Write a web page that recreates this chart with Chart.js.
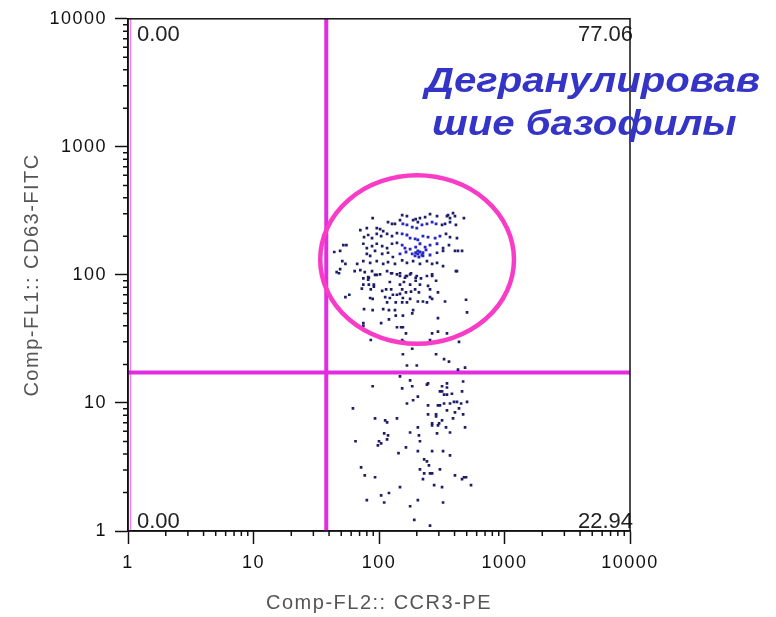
<!DOCTYPE html>
<html>
<head>
<meta charset="utf-8">
<script src="https://cdn.jsdelivr.net/npm/chart.js@4.4.1/dist/chart.umd.min.js"></script>
<style>
  html, body { margin: 0; padding: 0; background: #fff; }
  #wrap { position: relative; width: 776px; height: 617px; }
</style>
</head>
<body>
<div id="wrap"><canvas id="dotplot"></canvas></div>
<script>
'use strict';

// Axes: both log, 1 - 10000
const decadeTicks = [1, 10, 100, 1000, 10000];
const decadeLabels = ['1', '10', '100', '1000', '10000'];
const xTitle = 'Comp-FL2:: CCR3-PE';
const yTitle = 'Comp-FL1:: CD63-FITC';

// Quadrant gate and its percentages (UL, UR, LL, LR)
const quadGateX = 38;
const quadGateY = 17.3;
const quadPercents = ['0.00', '77.06', '0.00', '22.94'];

// Elliptic gate, bounding values on each axis
const ellipseGateX = [34, 1190];
const ellipseGateY = [29, 600];
const gateNote = ['Дегранулировав', 'шие базофилы'];

// Events: dense core of the population
const coreX = [155, 167, 184, 200, 220, 241, 265, 285, 153, 167, 177, 194, 204, 224, 246, 280, 306,
  153, 161, 177, 196, 212, 233, 255, 290, 147, 164, 184, 194, 204, 224, 255, 204, 212, 224, 237, 196, 220, 208];
const coreY = [250, 246, 236, 232, 246, 250, 258, 250, 209, 205, 194, 191, 188, 201, 197, 194, 201,
  171, 162, 159, 165, 175, 165, 171, 175, 146, 151, 146, 141, 146, 141, 143, 154, 151, 149, 157, 149, 143, 138];

// Events: upper right quadrant
const upperX = [389, 403, 475, 355, 368, 290, 255, 233, 212, 196,
  204, 187, 167, 153, 89, 118, 127, 134, 147, 318,
  336, 368, 410, 71, 80, 96, 102, 108, 76, 82,
  88, 96, 104, 116, 127, 139, 342, 368, 418, 52,
  55, 44, 49, 75, 80, 88, 96, 106, 116, 127,
  139, 324, 361, 80, 85, 93, 106, 118, 129, 290,
  324, 403, 426, 459, 51, 54, 49, 67, 75, 85,
  96, 108, 118, 134, 153, 167, 187, 212, 241, 265,
  290, 324, 46, 64, 71, 77, 88, 102, 116, 127,
  139, 147, 167, 180, 200, 216, 241, 265, 418, 75,
  82, 348,
  48, 82, 83, 93, 96, 125, 147, 177, 196, 164,
  161, 265, 410, 75, 83, 91, 91, 122, 147, 158,
  177, 196, 212, 246, 285, 73, 86, 106, 114, 125,
  129, 139, 147, 153, 164, 180, 194, 208, 255, 295,
  54, 58, 85, 89, 112, 122, 155, 177, 255, 265,
  116, 136, 153, 167, 204, 224, 241, 336, 494, 76,
  89, 108, 120, 134, 187, 136, 155, 184, 75, 75,
  104, 120, 295, 503, 139, 150, 155, 164, 265, 295,
  348, 86, 153, 158, 255, 434, 184, 155, 285, 330,
  361, 200, 167, 426, 485];
const upperY = [304, 288, 278, 293, 278, 288, 298, 283, 278, 273,
  258, 268, 288, 293, 278, 258, 250, 250, 268, 246,
  250, 258, 246, 224, 232, 232, 228, 220, 197, 205,
  194, 209, 201, 209, 201, 212, 209, 197, 194, 171,
  171, 151, 154, 175, 162, 168, 175, 168, 162, 175,
  178, 162, 171, 146, 141, 154, 146, 149, 138, 149,
  154, 154, 154, 154, 128, 122, 111, 122, 128, 124,
  128, 122, 126, 122, 130, 124, 128, 122, 128, 122,
  124, 117, 105, 107, 109, 105, 107, 101, 107, 103,
  101, 98, 98, 103, 98, 94, 98, 101, 107, 94,
  92, 288,
  103, 96, 95, 100, 100, 103, 103, 101, 95, 98,
  95, 98, 107, 84, 84, 84, 81, 88, 84, 88,
  84, 90, 84, 82, 90, 78, 77, 75, 77, 77,
  70, 70, 71, 77, 73, 74, 77, 73, 77, 73,
  67, 70, 66, 65, 67, 66, 66, 65, 67, 65,
  61, 61, 61, 61, 62, 62, 61, 62, 64, 54,
  53, 54, 53, 53, 53, 48, 48, 50, 42, 40,
  42, 45, 46, 51, 39, 39, 39, 35, 35, 36,
  35, 31, 31, 30, 31, 30, 26.5, 24, 24, 22,
  21, 19.6, 19.6, 18.2, 18.9];

// Events: lower right quadrant
const lowerX = [147, 177, 89, 153, 184, 241, 246, 318, 348, 348,
  468, 306, 318, 330, 348, 381, 459, 204, 187, 167,
  246, 295, 306, 330, 368, 396, 418, 451, 503, 348,
  403, 434, 468, 62, 93, 112, 116, 139, 246, 285,
  285, 318, 301, 295, 265, 265, 389, 342, 368, 485,
  204, 177, 290, 110, 118, 65, 100, 104, 98, 116,
  208, 212, 164, 204, 265, 324, 368, 143, 229, 241,
  250, 212, 306, 72, 229, 255, 265, 224, 403, 459,
  476, 494, 77, 93, 275, 318, 147, 541, 120, 104,
  80, 110, 204, 324, 177, 191, 255];
const lowerY = [16.1, 15.0, 13.5, 13.0, 13.5, 13.9, 14.2, 13.5, 14.2, 13.2,
  14.7, 12.3, 12.3, 11.6, 11.6, 11.8, 12.3, 11.2, 10.5, 9.9,
  9.56, 9.56, 9.56, 9.9, 9.9, 10.2, 10.2, 9.9, 10.2, 8.74,
  8.43, 9.06, 8.13, 9.06, 7.58, 7.31, 7.05, 7.58, 8.13, 8.13,
  7.84, 7.31, 6.93, 6.68, 6.93, 6.68, 7.58, 6.45, 5.88, 6.45,
  6.45, 5.88, 5.79, 5.79, 5.58, 5.02, 5.02, 4.84, 4.67, 5.2,
  5.58, 5.02, 4.5, 4.2, 4.2, 4.2, 3.9, 4.05, 3.63, 3.5,
  3.26, 3.03, 3.03, 3.14, 2.82, 2.82, 2.82, 2.54, 2.72, 2.54,
  2.63, 2.63, 2.72, 2.63, 2.28, 2.2, 2.2, 2.28, 1.98, 1.9,
  1.74, 1.67, 1.74, 1.67, 1.56, 1.22, 1.1];

(function () {
  const axisFont = '"Liberation Sans", Arial, sans-serif';
  const inkColor = '#111111',
    dotColor = '#1d1d68',
    coreColor = '#2626c4',
    quadColor = '#e22ce2',
    ellipseColor = '#f93cc8',
    noteColor = '#3434c6';

  const toPoints = (xs, ys) => xs.map((x, i) => ({ x: x, y: ys[i] }));

  // minor log ticks 2..9 in every decade
  const minorTicks = [];
  decadeTicks.slice(0, -1).forEach(function (d) {
    for (let k = 2; k < 10; k++) minorTicks.push(d * k);
  });

  const gatePlugin = {
    id: 'gates',
    beforeDraw(chart) {
      // labels of the reference are set wide
      chart.ctx.letterSpacing = '1.5px';
    },
    afterDatasetsDraw(chart) {
      const { ctx, chartArea: a, scales: { x, y } } = chart;
      ctx.save();
      ctx.letterSpacing = '0px';

      // thin gate edge along the left border
      ctx.strokeStyle = 'rgba(226,44,226,0.6)';
      ctx.lineWidth = 1.5;
      ctx.beginPath();
      ctx.moveTo(a.left + 2.5, a.top);
      ctx.lineTo(a.left + 2.5, a.bottom);
      ctx.stroke();

      // elliptic gate
      const x0 = x.getPixelForValue(ellipseGateX[0]), x1 = x.getPixelForValue(ellipseGateX[1]);
      const y0 = y.getPixelForValue(ellipseGateY[0]), y1 = y.getPixelForValue(ellipseGateY[1]);
      ctx.strokeStyle = ellipseColor;
      ctx.lineWidth = 4.5;
      ctx.beginPath();
      ctx.ellipse((x0 + x1) / 2, (y0 + y1) / 2, Math.abs(x1 - x0) / 2, Math.abs(y1 - y0) / 2, 0, 0, Math.PI * 2);
      ctx.stroke();

      // quadrant percentages
      ctx.fillStyle = '#222';
      ctx.font = '22px ' + axisFont;
      ctx.textBaseline = 'alphabetic';
      ctx.textAlign = 'left';
      ctx.fillText(quadPercents[0], a.left + 9, a.top + 22);
      ctx.fillText(quadPercents[2], a.left + 9, a.bottom - 3);
      ctx.textAlign = 'right';
      ctx.fillText(quadPercents[1], a.right + 3, a.top + 22);
      ctx.fillText(quadPercents[3], a.right + 3, a.bottom - 3);

      // frame: top and right edges
      ctx.strokeStyle = inkColor;
      ctx.lineWidth = 1.5;
      ctx.strokeRect(a.left, a.top, a.right - a.left, a.bottom - a.top);

      // minor ticks
      ctx.beginPath();
      minorTicks.forEach(function (v) {
        const px = x.getPixelForValue(v);
        ctx.moveTo(px, a.bottom);
        ctx.lineTo(px, a.bottom + 5);
        const py = y.getPixelForValue(v);
        ctx.moveTo(a.left, py);
        ctx.lineTo(a.left - 5, py);
      });
      ctx.stroke();

      // gate note, stretched like the reference
      ctx.fillStyle = noteColor;
      ctx.font = 'italic bold 35px ' + axisFont;
      ctx.textAlign = 'left';
      const stretch = 335 / ctx.measureText(gateNote[0]).width;
      ctx.translate(425, 92);
      ctx.scale(stretch, 1);
      ctx.fillText(gateNote[0], 0, 0);
      ctx.fillText(gateNote[1], 7 / stretch, 43);
      ctx.restore();
    }
  };

  const logAxis = function (title, fitSize) {
    return {
      type: 'logarithmic',
      min: 1,
      max: 10000,
      afterBuildTicks: function (scale) {
        scale.ticks = decadeTicks.map(value => ({ value: value }));
      },
      afterFit: fitSize,
      ticks: {
        autoSkip: false,
        maxRotation: 0,
        padding: 8,
        color: inkColor,
        font: { family: axisFont, size: 18 },
        callback: (value, index) => decadeLabels[index]
      },
      grid: {
        drawOnChartArea: false,
        drawTicks: true,
        tickLength: 13,
        tickColor: inkColor,
        tickWidth: 1.5
      },
      border: { display: true, color: inkColor, width: 1.5 },
      title: {
        display: true,
        text: title,
        color: '#555',
        font: { family: axisFont, size: 20 }
      }
    };
  };

  const xAxis = logAxis(xTitle, scale => { scale.height = 86; });
  xAxis.title.padding = { top: 0, bottom: 2 };
  const yAxis = logAxis(yTitle, scale => { scale.width = 128; });
  yAxis.title.padding = { top: 20, bottom: 0 };

  const dotplot = document.getElementById('dotplot');
  new Chart(dotplot, {
    type: 'scatter',
    data: {
      datasets: [
        {
          data: toPoints(coreX, coreY),
          backgroundColor: coreColor,
          pointStyle: 'rect',
          pointRadius: 2,
          borderWidth: 0
        },
        {
          data: toPoints(upperX, upperY).concat(toPoints(lowerX, lowerY)),
          backgroundColor: dotColor,
          pointStyle: 'rect',
          pointRadius: 1.9,
          borderWidth: 0
        },
        {
          type: 'line',
          data: [{ x: quadGateX, y: 1 }, { x: quadGateX, y: 10000 }],
          borderColor: quadColor,
          borderWidth: 4,
          pointRadius: 0
        },
        {
          type: 'line',
          data: [{ x: 1, y: quadGateY }, { x: 10000, y: quadGateY }],
          borderColor: quadColor,
          borderWidth: 4,
          pointRadius: 0
        }
      ]
    },
    options: {
      responsive: true,
      maintainAspectRatio: false,
      animation: false,
      layout: { padding: { top: 17, right: 146, bottom: 0, left: 0 } },
      plugins: {
        legend: { display: false },
        tooltip: { enabled: false }
      },
      scales: { x: xAxis, y: yAxis }
    },
    plugins: [gatePlugin]
  });
})();
</script>
</body>
</html>
